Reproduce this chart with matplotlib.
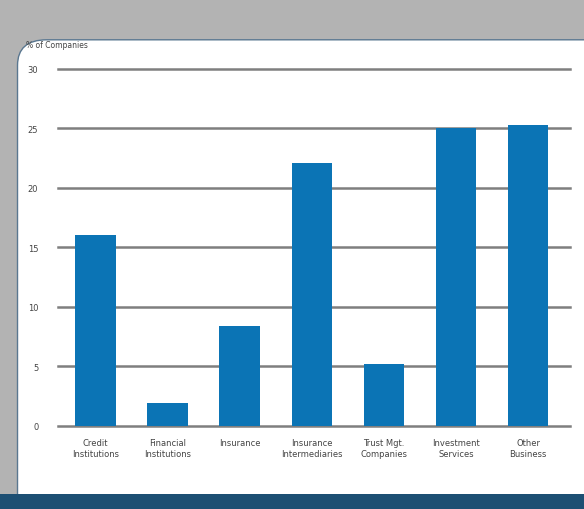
import matplotlib.pyplot as plt
from matplotlib.patches import FancyBboxPatch, Rectangle

# data
categories = ['Credit\nInstitutions', 'Financial\nInstitutions', 'Insurance',
              'Insurance\nIntermediaries', 'Trust Mgt.\nCompanies',
              'Investment\nServices', 'Other\nBusiness']
values = [16.0, 1.9, 8.4, 22.1, 5.2, 25.0, 25.3]
yticks = [0, 5, 10, 15, 20, 25, 30]

fig = plt.figure(figsize=(5.84, 5.10), dpi=100)
fig.patch.set_facecolor('#b3b3b3')

# white slide panel with rounded corner
panel = FancyBboxPatch((0.03, -0.1), 1.2, 1.02,
                       boxstyle='round,pad=0,rounding_size=0.05',
                       transform=fig.transFigure, facecolor='white',
                       edgecolor='#5a7790', linewidth=1.0, zorder=0)
fig.patches.append(panel)
# dark blue band at bottom
fig.patches.append(Rectangle((0, 0), 1, 0.03, transform=fig.transFigure,
                             facecolor='#1d4f73', edgecolor='none', zorder=1))

ax = fig.add_axes([0.099, 0.163, 0.877, 0.70])
ax.set_zorder(3)
ax.bar(range(len(values)), values, width=0.56, color='#0b74b5', zorder=3)

ax.set_xlim(-0.52, 6.58)
ax.set_ylim(0, 30)
ax.set_yticks(yticks)
ax.set_yticklabels([str(t) for t in yticks], fontsize=6, color='#444444')
ax.set_xticks(range(len(categories)))
ax.set_xticklabels(categories, fontsize=6, color='#444444')
ax.tick_params(length=0)
ax.tick_params(axis='y', pad=14)
ax.tick_params(axis='x', pad=9)
ax.yaxis.grid(True, color='#7f7f7f', linewidth=1.8, clip_on=False)
ax.set_axisbelow(True)
for s in ax.spines.values():
    s.set_visible(False)
ax.patch.set_alpha(0)

t = fig.text(0.045, 0.905, '% of Companies', fontsize=5.5, color='#444444')
t.set_zorder(4)

plt.savefig('out.png', dpi=100, facecolor=fig.get_facecolor())
